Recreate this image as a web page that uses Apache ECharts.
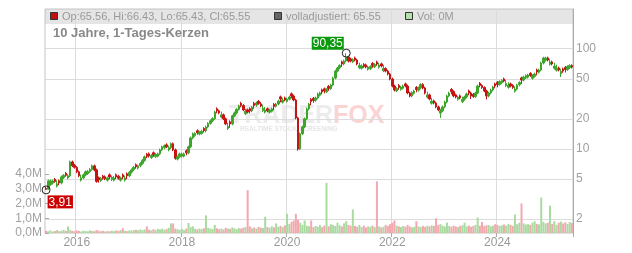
<!DOCTYPE html>
<html><head><meta charset="utf-8">
<script src="https://cdn.jsdelivr.net/npm/echarts@6/dist/echarts.min.js"></script>
<style>html,body{margin:0;padding:0;background:#fff}#c{width:632px;height:253px}</style>
</head><body><div id="c"></div>
<script>
const dates = [
'2015-06-01','2015-06-16','2015-07-01','2015-07-16','2015-08-01','2015-08-16','2015-09-01','2015-09-16','2015-10-01','2015-10-16','2015-11-01','2015-11-16','2015-12-01','2015-12-16',
'2016-01-01','2016-01-16','2016-02-01','2016-02-16','2016-03-01','2016-03-16','2016-04-01','2016-04-16','2016-05-01','2016-05-16','2016-06-01','2016-06-16','2016-07-01','2016-07-16','2016-08-01','2016-08-16','2016-09-01','2016-09-16','2016-10-01','2016-10-16','2016-11-01','2016-11-16','2016-12-01','2016-12-16',
'2017-01-01','2017-01-16','2017-02-01','2017-02-16','2017-03-01','2017-03-16','2017-04-01','2017-04-16','2017-05-01','2017-05-16','2017-06-01','2017-06-16','2017-07-01','2017-07-16','2017-08-01','2017-08-16','2017-09-01','2017-09-16','2017-10-01','2017-10-16','2017-11-01','2017-11-16','2017-12-01','2017-12-16',
'2018-01-01','2018-01-16','2018-02-01','2018-02-16','2018-03-01','2018-03-16','2018-04-01','2018-04-16','2018-05-01','2018-05-16','2018-06-01','2018-06-16','2018-07-01','2018-07-16','2018-08-01','2018-08-16','2018-09-01','2018-09-16','2018-10-01','2018-10-16','2018-11-01','2018-11-16','2018-12-01','2018-12-16',
'2019-01-01','2019-01-16','2019-02-01','2019-02-16','2019-03-01','2019-03-16','2019-04-01','2019-04-16','2019-05-01','2019-05-16','2019-06-01','2019-06-16','2019-07-01','2019-07-16','2019-08-01','2019-08-16','2019-09-01','2019-09-16','2019-10-01','2019-10-16','2019-11-01','2019-11-16','2019-12-01','2019-12-16',
'2020-01-01','2020-01-16','2020-02-01','2020-02-16','2020-03-01','2020-03-16','2020-04-01','2020-04-16','2020-05-01','2020-05-16','2020-06-01','2020-06-16','2020-07-01','2020-07-16','2020-08-01','2020-08-16','2020-09-01','2020-09-16','2020-10-01','2020-10-16','2020-11-01','2020-11-16','2020-12-01','2020-12-16',
'2021-01-01','2021-01-16','2021-02-01','2021-02-16','2021-03-01','2021-03-16','2021-04-01','2021-04-16','2021-05-01','2021-05-16','2021-06-01','2021-06-16','2021-07-01','2021-07-16','2021-08-01','2021-08-16','2021-09-01','2021-09-16','2021-10-01','2021-10-16','2021-11-01','2021-11-16','2021-12-01','2021-12-16',
'2022-01-01','2022-01-16','2022-02-01','2022-02-16','2022-03-01','2022-03-16','2022-04-01','2022-04-16','2022-05-01','2022-05-16','2022-06-01','2022-06-16','2022-07-01','2022-07-16','2022-08-01','2022-08-16','2022-09-01','2022-09-16','2022-10-01','2022-10-16','2022-11-01','2022-11-16','2022-12-01','2022-12-16',
'2023-01-01','2023-01-16','2023-02-01','2023-02-16','2023-03-01','2023-03-16','2023-04-01','2023-04-16','2023-05-01','2023-05-16','2023-06-01','2023-06-16','2023-07-01','2023-07-16','2023-08-01','2023-08-16','2023-09-01','2023-09-16','2023-10-01','2023-10-16','2023-11-01','2023-11-16','2023-12-01','2023-12-16',
'2024-01-01','2024-01-16','2024-02-01','2024-02-16','2024-03-01','2024-03-16','2024-04-01','2024-04-16','2024-05-01','2024-05-16','2024-06-01','2024-06-16','2024-07-01','2024-07-16','2024-08-01','2024-08-16','2024-09-01','2024-09-16','2024-10-01','2024-10-16','2024-11-01','2024-11-16','2024-12-01','2024-12-16',
'2025-01-01','2025-01-16','2025-02-01','2025-02-16','2025-03-01','2025-03-16','2025-04-01','2025-04-16','2025-05-01','2025-05-16','2025-06-01'
];
const opens = [
4.05,4.00,4.42,4.57,4.99,4.27,4.82,4.59,5.19,5.73,
5.13,5.40,7.44,6.89,6.56,5.92,4.89,5.15,5.52,5.68,
5.95,6.26,6.79,6.19,5.17,4.85,5.36,5.29,4.89,5.53,
4.95,4.89,5.53,5.36,4.89,5.53,4.89,5.67,5.40,5.88,
6.23,6.97,6.45,6.83,7.19,7.70,8.87,8.97,8.21,9.18,
8.40,8.49,8.94,9.80,10.3,11.0,9.79,10.3,11.3,9.80,
7.93,8.35,8.49,8.49,9.61,9.15,10.5,12.9,13.6,15.2,
14.1,14.3,16.0,15.2,16.6,18.0,19.1,20.1,25.2,24.0,
20.8,21.9,20.0,16.0,18.7,17.8,21.4,22.9,24.8,28.6,
27.2,22.5,24.6,25.2,24.0,28.6,27.4,29.9,28.2,24.1,
23.3,25.2,23.3,23.8,27.9,26.7,28.1,33.1,29.3,32.3,
29.9,31.4,35.5,33.8,30.8,20.4,10.0,14.2,16.6,20.0,
25.1,31.3,32.0,30.7,32.3,34.4,38.9,39.8,37.2,42.1,
40.1,43.4,51.0,59.9,64.6,73.9,70.4,75.4,82.6,79.2,
74.1,81.0,77.1,64.6,63.8,69.7,69.0,62.4,63.1,71.4,
66.1,73.9,65.4,70.6,60.2,63.4,59.9,55.9,49.9,42.5,
38.1,43.1,39.4,40.4,44.6,42.5,36.2,33.8,36.0,41.2,
38.6,40.6,44.0,40.6,32.9,34.6,28.6,30.2,28.8,26.3,
22.8,24.0,26.3,29.4,33.8,39.3,37.4,34.7,31.4,33.9,
29.6,31.4,33.0,38.0,36.2,35.1,33.4,36.2,45.2,43.0,
41.0,37.9,33.8,36.2,38.7,44.6,46.2,44.0,45.8,50.0,
42.8,41.2,44.6,43.1,37.6,39.6,43.7,51.1,48.7,51.3,
52.0,56.7,50.7,53.1,61.5,58.2,61.3,72.0,76.8,81.0,
70.0,73.9,63.8,61.0,64.4,56.3,62.9,65.1,62.0,64.6,
68.0
];
const closes = [
4.00,4.81,4.65,4.81,4.75,4.49,4.59,5.27,5.46,5.46,
5.40,7.44,6.79,6.56,5.92,5.40,5.15,5.52,5.92,5.98,
6.26,6.79,6.19,4.75,4.92,5.10,5.10,5.04,5.15,5.27,
5.21,5.15,5.27,5.10,5.15,5.27,5.15,5.40,5.85,6.19,
6.56,6.64,6.79,7.19,7.70,8.35,8.45,8.54,8.64,8.74,
8.84,8.94,9.80,10.5,10.8,10.5,10.3,11.3,9.80,8.06,
8.35,8.94,8.94,8.94,9.15,10.5,12.9,14.2,14.3,14.5,
14.8,15.0,15.2,16.6,18.0,19.1,20.1,23.4,24.0,22.9,
21.9,20.0,17.8,16.8,17.8,21.4,22.9,24.8,26.9,27.2,
24.5,23.7,23.4,24.0,26.0,27.2,28.8,28.5,26.9,25.4,
24.5,24.0,24.5,25.1,26.6,28.1,30.1,31.5,30.8,30.8,
31.5,33.0,33.8,30.8,20.4,10.0,14.2,16.6,20.0,25.1,
28.1,29.8,30.5,32.3,35.4,36.2,37.0,37.9,39.2,40.1,
43.4,51.0,59.9,64.2,68.0,70.4,75.4,82.6,75.4,75.4,
78.0,77.1,70.4,68.0,67.2,66.4,65.7,65.7,66.4,68.0,
69.6,70.4,68.8,67.2,63.4,59.9,55.9,49.9,42.5,38.7,
40.1,41.0,41.5,42.5,42.5,36.2,33.8,36.6,37.9,39.2,
40.6,44.0,40.6,36.2,34.6,31.5,30.1,28.8,26.3,24.5,
24.0,26.3,29.4,33.8,36.2,37.4,33.8,33.0,33.0,32.3,
31.2,33.0,35.4,36.2,33.8,33.4,36.2,42.5,43.0,41.0,
37.9,33.8,36.2,38.7,41.5,42.5,44.0,47.1,48.2,47.6,
45.0,43.4,42.5,41.0,39.6,43.4,46.0,48.7,52.2,54.0,
54.7,54.0,53.4,55.9,58.6,61.3,72.0,80.8,80.8,77.1,
73.7,70.4,67.2,64.2,61.3,59.3,59.9,62.0,66.4,68.0,
65.55
];
const highs = [
4.20,4.95,4.95,4.95,5.14,4.89,4.96,5.43,5.62,5.90,
5.62,7.66,7.66,7.10,6.76,6.10,5.56,5.69,6.10,6.16,
6.45,6.99,6.99,6.38,5.32,5.25,5.52,5.45,5.30,5.70,
5.43,5.37,5.70,5.52,5.30,5.70,5.43,5.84,6.03,6.38,
6.76,7.18,6.99,7.41,7.93,8.60,9.14,9.24,8.90,9.46,
9.11,9.21,10.1,10.8,11.1,11.4,10.8,11.6,11.6,10.1,
8.60,9.21,9.21,9.21,9.90,10.8,13.3,14.6,14.7,15.7,
15.2,15.5,16.5,17.1,18.5,19.7,20.7,24.1,26.0,24.7,
23.6,22.6,20.6,18.3,19.3,22.0,23.6,25.5,27.7,29.5,
28.0,25.2,25.3,26.0,26.8,29.5,29.7,30.8,29.4,27.7,
26.2,26.0,25.2,25.9,28.7,28.9,31.0,34.1,32.4,33.3,
32.4,34.0,36.6,34.8,31.7,21.0,14.6,17.1,20.6,25.9,
28.9,32.2,33.0,33.3,36.5,37.3,40.0,41.0,40.4,43.4,
44.7,52.5,61.7,66.1,70.0,76.1,77.7,90.35,85.1,81.6,
80.3,83.4,79.4,72.5,70.0,71.8,71.1,67.7,68.4,73.5,
71.7,76.1,72.5,72.7,69.2,65.3,61.7,57.6,51.4,43.8,
41.3,44.4,42.7,43.8,45.9,43.8,37.3,37.7,39.0,42.4,
41.8,45.3,45.3,41.8,37.3,35.6,32.4,31.1,29.7,27.1,
25.2,27.1,30.3,34.8,37.3,40.5,38.5,35.7,34.0,34.9,
33.3,34.0,36.5,39.1,37.3,36.2,37.3,43.8,46.5,44.3,
42.2,39.0,37.3,39.9,42.7,45.9,47.6,48.5,49.6,51.5,
49.0,46.4,45.9,44.4,42.2,44.7,47.4,52.6,53.8,55.6,
56.3,58.4,55.6,57.6,63.3,63.1,74.2,83.2,83.2,83.4,
79.4,76.1,72.5,69.2,66.3,63.1,64.8,67.1,68.4,70.0,
70.0
];
const lows = [
3.91,3.96,4.29,4.43,4.61,4.14,4.36,4.45,5.03,5.30,
4.98,5.24,6.59,6.36,5.74,5.24,4.74,5.00,5.35,5.51,
5.77,6.07,6.00,4.61,4.61,4.70,4.95,4.89,4.74,5.00,
4.80,4.74,5.00,4.95,4.74,5.00,4.74,5.00,5.24,5.67,
6.00,6.36,6.26,6.59,6.97,7.47,8.10,8.20,7.96,8.38,
8.15,8.24,8.67,9.51,9.95,10.2,9.49,9.99,9.51,7.82,
7.69,8.10,8.24,8.24,8.67,8.88,10.2,12.5,13.2,13.9,
13.7,13.9,14.6,14.7,16.1,17.5,18.5,19.5,22.7,22.2,
20.2,19.4,17.3,15.5,16.3,17.3,20.8,22.2,24.1,26.1,
23.8,21.8,22.7,22.7,23.3,25.2,26.4,27.6,26.1,23.4,
22.6,23.3,22.6,23.1,24.3,25.9,27.3,29.2,28.4,29.9,
29.0,30.5,32.0,29.9,19.8,9.60,9.80,13.8,16.1,19.4,
24.3,27.3,28.9,29.6,31.3,33.4,35.1,35.9,36.1,38.0,
38.9,42.1,49.5,58.1,62.3,66.0,68.3,73.1,73.1,73.1,
71.9,74.8,68.3,62.7,61.9,64.4,63.7,60.5,61.2,64.4,
64.1,67.5,63.4,65.2,58.4,58.1,54.2,48.4,41.2,37.5,
37.0,38.9,38.2,39.2,41.2,35.1,32.8,32.8,34.9,36.8,
37.4,39.4,39.4,35.1,31.9,30.6,27.7,27.9,25.5,23.8,
20.4,23.3,25.5,28.5,32.8,35.1,32.8,32.0,30.4,31.3,
28.7,30.3,32.0,34.3,31.5,32.4,32.4,35.1,41.2,39.8,
36.8,31.2,32.8,35.1,37.5,40.3,41.2,42.7,44.4,46.2,
41.5,40.0,41.2,39.8,36.5,38.4,42.1,44.6,47.2,49.8,
50.4,52.4,49.2,51.5,54.2,56.5,59.5,69.8,74.5,74.8,
67.9,68.3,61.9,59.2,59.5,52.2,57.5,58.1,60.1,62.7,
63.6
];
const volumes = [
0.15,0.12,0.18,0.10,0.14,0.20,0.12,0.16,0.22,0.14,
0.45,0.20,0.15,0.12,0.18,0.14,0.10,0.16,0.13,0.12,
0.18,0.14,0.12,0.20,0.16,0.12,0.15,0.10,0.14,0.12,
0.16,0.12,0.18,0.14,0.20,0.33,0.15,0.12,0.18,0.16,
0.20,0.22,0.18,0.25,0.20,0.24,0.45,0.22,0.18,0.26,
0.20,0.28,0.24,0.30,0.22,0.26,0.35,0.65,0.65,0.30,
0.25,0.22,0.28,0.20,0.30,0.68,0.40,0.45,0.28,0.24,
0.30,0.26,0.32,1.20,0.35,0.30,0.28,0.55,0.32,0.26,
0.30,0.24,0.35,0.30,0.28,0.38,0.32,0.26,0.34,0.30,
0.36,0.40,2.90,0.45,0.32,0.38,0.30,0.42,0.36,0.34,
1.10,0.40,0.36,0.45,0.38,0.65,0.42,0.48,0.40,0.52,
1.30,0.60,0.75,0.85,1.30,0.90,0.70,0.55,0.85,0.50,
0.45,0.85,0.40,0.48,0.42,0.55,0.40,0.50,3.40,0.45,
0.60,0.55,0.48,0.70,0.52,0.45,0.65,0.80,0.55,0.50,
1.60,0.48,0.42,0.55,0.40,0.50,0.38,0.45,0.42,0.50,
0.40,3.50,0.45,0.38,0.42,0.55,0.48,0.60,0.70,0.85,
0.50,0.45,0.40,0.48,0.42,0.55,0.45,0.38,0.42,0.80,
0.45,0.40,0.48,0.42,0.50,0.45,0.52,0.48,1.00,0.55,
0.60,0.50,0.45,0.70,0.48,0.42,0.50,0.45,0.40,0.48,
0.52,0.70,0.45,0.50,0.42,0.48,0.55,1.05,0.50,0.75,
0.48,0.52,0.55,0.45,0.50,0.60,0.55,0.48,0.52,0.58,
0.50,0.62,0.55,0.48,1.25,0.60,0.70,2.00,0.65,0.58,
0.60,0.55,0.70,0.80,0.62,0.58,2.40,0.75,0.65,0.70,
1.85,0.62,0.80,0.55,0.70,0.78,0.65,0.72,0.60,0.75,
0.68
];
const priceTicks = [2, 5, 10, 20, 50, 100];
const yearLabels = ['2016', '2018', '2020', '2022', '2024'];
const maxPoint = { date: '2021-02-16', value: 90.35, text: '90,35' };
const minPoint = { date: '2015-06-01', value: 3.91, text: '3,91' };
const legendTexts = ['Op:65.56, Hi:66.43, Lo:65.43, Cl:65.55', 'volladjustiert: 65.55', 'Vol: 0M'];
const titleText = '10 Jahre, 1-Tages-Kerzen';

const FONT = 'Liberation Sans, Arial, Helvetica, sans-serif';
const UP = '#3ea52c', DOWN = '#c61414';
const UPV = '#a9dba1', DOWNV = '#f3a7ae';
const isYear = (i, v) => typeof v === 'string' && v.slice(5) === '01-01' && yearLabels.includes(v.slice(0, 4));

const chart = echarts.init(document.getElementById('c'), null, { renderer: 'canvas' });
chart.setOption({
  animation: false,
  backgroundColor: '#fff',
  textStyle: { fontFamily: FONT },
  grid: [
    { left: 45, right: 59, top: 9, bottom: 20, show: true, borderColor: '#c4c4c4', borderWidth: 1, backgroundColor: 'transparent', containLabel: false, outerBoundsMode: 'none' },
    { left: 45, right: 59, top: 174, bottom: 20, containLabel: false, outerBoundsMode: 'none' }
  ],
  xAxis: [
    {
      type: 'category', gridIndex: 0, data: dates, boundaryGap: true,
      axisLine: { show: false },
      axisTick: { show: true, interval: isYear, length: 4, lineStyle: { color: '#aaa' } },
      axisLabel: { interval: isYear, formatter: v => v.slice(0, 4), color: '#999', fontSize: 12, margin: 4, fontFamily: FONT },
      splitLine: { show: true, interval: isYear, lineStyle: { color: '#dcdcdc', width: 1 } }
    },
    { type: 'category', gridIndex: 1, data: dates, boundaryGap: true, show: false }
  ],
  yAxis: [
    {
      type: 'log', logBase: 10, gridIndex: 0, position: 'right', min: 1.453, max: 249,
      axisLine: { show: true, lineStyle: { color: '#aaa' } },
      axisTick: { show: true, inside: true, length: 6, customValues: priceTicks, lineStyle: { color: '#aaa' } },
      axisLabel: { customValues: priceTicks, color: '#a0a0a0', fontSize: 12, margin: 3, fontFamily: FONT },
      splitLine: { show: false }
    },
    {
      type: 'value', gridIndex: 1, position: 'left', min: 0, max: 4, interval: 1,
      axisLine: { show: false },
      axisTick: { show: true, inside: true, length: 4, lineStyle: { color: '#aaa' } },
      axisLabel: { formatter: v => v.toFixed(1).replace('.', ',') + 'M', color: '#a0a0a0', fontSize: 12, margin: 3, fontFamily: FONT },
      splitLine: { show: false }
    }
  ],
  series: [
    {
      type: 'bar', xAxisIndex: 1, yAxisIndex: 1, barWidth: 2, z: 1,
      data: volumes.map((v, i) => ({ value: v, itemStyle: { color: closes[i] >= opens[i] ? UPV : DOWNV } }))
    },
    {
      type: 'candlestick', xAxisIndex: 0, yAxisIndex: 0, barWidth: 2, z: 3,
      data: dates.map((d, i) => [opens[i], closes[i], lows[i], highs[i]]),
      itemStyle: { color: UP, color0: DOWN, borderColor: UP, borderColor0: DOWN, borderWidth: 1 },
      markLine: {
        silent: true, symbol: ['none', 'none'], z: 1, animation: false,
        label: { show: false },
        lineStyle: { color: '#dcdcdc', width: 1, type: 'solid' },
        data: priceTicks.map(v => ({ yAxis: v }))
      },
      markPoint: {
        silent: true, symbol: 'circle', symbolSize: 8, z: 10, animation: false,
        itemStyle: { color: 'rgba(255,255,255,0)', borderColor: '#222', borderWidth: 1 },
        data: [
          { coord: [maxPoint.date, maxPoint.value], label: { show: true, formatter: maxPoint.text, position: [-30, -12], color: '#fff', backgroundColor: '#0a990a', padding: [1, 1, 0, 1], fontSize: 12, lineHeight: 12, fontFamily: FONT } },
          { coord: [minPoint.date, minPoint.value], label: { show: true, formatter: minPoint.text, position: [6, 10], color: '#fff', backgroundColor: '#cc0000', padding: [1, 1, 0, 1], fontSize: 12, lineHeight: 12, fontFamily: FONT } }
        ]
      }
    }
  ],
  graphic: [
    { type: 'rect', z: -10, silent: true, shape: { x: 45, y: 9, width: 528, height: 15 }, style: { fill: '#e5e5e5' } },
    { type: 'rect', z: 20, silent: true, shape: { x: 50.5, y: 12.5, width: 7, height: 7 }, style: { fill: '#c01010', stroke: '#333', lineWidth: 1 } },
    { type: 'text', z: 20, silent: true, x: 62, y: 16.5, style: { text: legendTexts[0], fill: '#999', font: '11px ' + FONT, verticalAlign: 'middle' } },
    { type: 'rect', z: 20, silent: true, shape: { x: 274.5, y: 12.5, width: 7, height: 7 }, style: { fill: '#666', stroke: '#333', lineWidth: 1 } },
    { type: 'text', z: 20, silent: true, x: 286, y: 16.5, style: { text: legendTexts[1], fill: '#999', font: '11px ' + FONT, verticalAlign: 'middle' } },
    { type: 'rect', z: 20, silent: true, shape: { x: 405.5, y: 12.5, width: 7, height: 7 }, style: { fill: '#b5e0ad', stroke: '#333', lineWidth: 1 } },
    { type: 'text', z: 20, silent: true, x: 417, y: 16.5, style: { text: legendTexts[2], fill: '#999', font: '11px ' + FONT, verticalAlign: 'middle' } },
    { type: 'text', z: 20, silent: true, x: 53, y: 33, style: { text: titleText, fill: '#888', font: 'bold 13px ' + FONT, verticalAlign: 'middle' } },
    { type: 'text', z: -5, silent: true, x: 229, y: 116, style: { text: 'TRADER', fill: '#ececec', font: 'bold 25px ' + FONT, verticalAlign: 'middle' } },
    { type: 'text', z: -5, silent: true, x: 333, y: 116, style: { text: 'FOX', fill: '#fad3d3', font: 'bold 25px ' + FONT, verticalAlign: 'middle' } },
    { type: 'text', z: -5, silent: true, x: 240, y: 129.5, style: { text: 'REALTIME STOCK SCREENING', fill: '#e6e6e6', font: 'bold 6.5px ' + FONT, verticalAlign: 'middle' } }
  ]
});
</script>
</body></html>
